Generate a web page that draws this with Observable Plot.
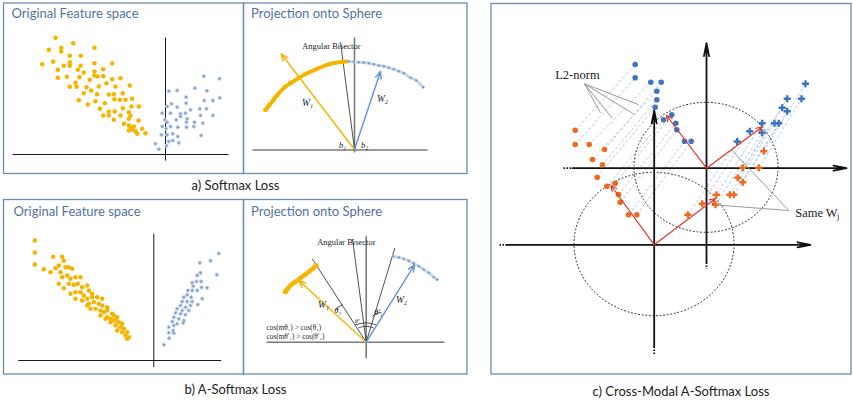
<!DOCTYPE html>
<html>
<head>
<meta charset="utf-8">
<script src="https://cdn.jsdelivr.net/npm/d3@7"></script>
<script src="https://cdn.jsdelivr.net/npm/@observablehq/plot@0.6"></script>
<style>
  html, body { margin: 0; padding: 0; background: #fff; }
  #chart { width: 853px; height: 402px; }
</style>
</head>
<body>
<div id="chart"></div>
<script>
// ---------- text ----------
const panelTitles = [
  {x: 11, y: 13.8, text: "Original Feature space"},
  {x: 250.5, y: 13.8, text: "Projection onto Sphere"},
  {x: 13, y: 211, text: "Original Feature space"},
  {x: 250.5, y: 211, text: "Projection onto Sphere"}
];
const captions = [
  {x: 235, y: 185, text: "a) Softmax Loss"},
  {x: 235, y: 389, text: "b) A-Softmax Loss"},
  {x: 680.5, y: 391.5, text: "c) Cross-Modal A-Softmax Loss"}
];
const frames = [
  {x1: 3.5, y1: 3, x2: 243.5, y2: 173.5},
  {x1: 243.5, y1: 3, x2: 467, y2: 173.5},
  {x1: 3.5, y1: 199.5, x2: 243.5, y2: 374},
  {x1: 243.5, y1: 199.5, x2: 467, y2: 374},
  {x1: 491, y1: 3.5, x2: 851, y2: 374}
];

// ---------- a) original feature space ----------
const aFeatOrange = [[55,37.3],[48.3,49.3],[60.7,47.3],[60.7,51],[72.7,42.7],[94,47.3],[41.7,63.7],[52.7,61.3],[63.3,65.3],[69.3,55.3],[69.3,61.7],[69.3,65.3],[80.3,55.3],[80,65.3],[57.3,69.3],[77.3,69.3],[83.3,72],[94,62.7],[94,71],[94,75],[102.7,68.7],[111.7,63],[57.3,77.3],[66.3,76.3],[75,82.3],[79,76.7],[89.3,79.3],[97,76],[102.7,75.7],[106,82.7],[111.7,78.7],[120,77.7],[129.3,85],[69.3,86.3],[76,86.3],[86,86.7],[90.7,90],[98.3,86],[115,86],[83.3,92.7],[96.7,93.7],[108.3,94],[113.3,93.7],[122.3,92.7],[114,98.7],[119.3,99.3],[125,99.3],[131.7,98.3],[78.3,99.7],[87.3,104],[95,100.7],[104.3,102.7],[99.3,108.3],[108.3,111],[114.3,111],[122.3,107.7],[131,106],[138.3,106],[102.7,115],[108.3,115],[120,115],[128.3,111.7],[130,115],[128.3,118.3],[113.3,119.3],[138,120],[123.3,123.3],[128.3,125],[133.3,126],[131.7,129.3],[128.3,130],[135,130.7],[141.7,128.3],[136.7,133.3],[145,132.7],[130,127.3]];
const aFeatBlue = [[203.3,75.7],[219,78.3],[168.3,90.7],[176.7,90],[194.3,87.7],[206.3,90.3],[185.7,96.7],[166.7,106],[171,103.3],[176.7,106.7],[185.7,102.7],[203.7,100],[212.3,100],[219.3,97.3],[161.7,112.7],[170,112.7],[180,113.3],[185,112.7],[190,109.3],[199.3,108.3],[206,108.3],[212.3,115],[200,115],[164.3,119.3],[166.7,121.7],[175.7,119.3],[180,116],[186.7,118.3],[194,121.7],[186,121.7],[202.3,122.7],[161.7,126],[170,126],[177.3,126.7],[186,126.7],[193.3,126],[165.7,128.3],[161,134.3],[166.7,134.3],[172.3,133.3],[177.3,136],[200.7,135],[168.3,141],[172.3,140],[178.3,142.3],[155,143.3],[158.3,148.7],[166,145.3]];

// ---------- b) original feature space ----------
const bFeatOrange = [[34.3,240],[34.3,252],[34.3,264],[43.3,268.7],[50,271.7],[52.7,256.3],[61.7,256.3],[63.3,260.3],[58.3,265],[55,267.7],[60,271.7],[65,266.7],[68.3,266.7],[71.7,268.3],[61.7,276.7],[66.7,275],[70,278.3],[75,276.7],[80,276.7],[58.3,283.3],[63.3,287.7],[68.3,283.3],[73.3,284.3],[77.3,283.3],[81.7,286.7],[86.7,285],[70,293.3],[75,291.7],[80,291.7],[83.3,295],[88.3,290],[91.7,293.3],[75,298.3],[81.7,300],[86.7,298.3],[91.7,296.7],[96.7,296.7],[101.7,298.3],[88.3,303.3],[93.3,301.7],[98.3,303.3],[101.7,305],[106.7,306.7],[95,308.3],[100,310],[103.3,311.7],[106.7,310],[111.7,313.3],[100,315],[106.7,316.7],[113.3,315],[116.7,316.7],[113.3,320],[118.3,321.7],[121.7,323.3],[110,321.7],[115,325],[120,326.7],[123.3,328.3],[116.7,330],[121.7,331.7],[126.7,331.7],[125,335],[128.3,336.7],[126.7,338.3],[86.7,305],[90,308.3],[105,318.3],[110,318.3],[115,320]];
const bFeatBlue = [[218.3,253],[210,260.3],[199.3,262.3],[216.3,274.3],[200,272.3],[196.7,275],[191.7,282.3],[196,281],[200.7,281],[192.7,285.7],[187.3,290],[191.7,290],[196.7,290],[201,287],[206.7,287.3],[186.7,294.3],[190.7,296.7],[183.3,296.7],[181.7,301],[186.7,301],[191.7,301],[201.7,298.3],[197.3,304],[180,305],[185,306.7],[190,305],[176.7,308.3],[181.7,310],[188.3,310],[175,312.3],[180,313.3],[185,314.3],[173.3,316.7],[178.3,318.3],[183.3,320],[171.7,321],[176.7,323.3],[182.7,322.3],[168.3,326.7],[173.3,325],[172.7,330],[168.3,332.3],[173.3,332.7],[168.7,337.7],[163.3,344.3]];

const featureAxes = [
  {x1: 12, y1: 154, x2: 228, y2: 154}, {x1: 165, y1: 37, x2: 165, y2: 160},
  {x1: 17.7, y1: 360, x2: 220.7, y2: 360}, {x1: 153.3, y1: 233.3, x2: 153.3, y2: 366.7}
];

// ---------- projections onto the sphere ----------
const sphereAxes = [
  {x1: 252, y1: 149.5, x2: 427, y2: 149.5}, {x1: 354, y1: 37, x2: 354, y2: 152},
  {x1: 266, y1: 341.7, x2: 444, y2: 341.7}, {x1: 365.7, y1: 235.7, x2: 365.7, y2: 357.7}
];
const bisectors = [
  {x1: 354, y1: 149, x2: 340, y2: 41.7},
  {x1: 365.7, y1: 341.7, x2: 311.7, y2: 258.3},
  {x1: 365.7, y1: 341.7, x2: 352, y2: 238.3},
  {x1: 365.7, y1: 341.7, x2: 394.3, y2: 247.7}
];
const weightW1 = [
  {x1: 354, y1: 149, x2: 280.7, y2: 53.3},
  {x1: 365.7, y1: 341.7, x2: 298.3, y2: 280}
];
const weightW2 = [
  {x1: 354, y1: 149, x2: 380, y2: 71},
  {x1: 365.7, y1: 341.7, x2: 414, y2: 264.3}
];
const aArcOrange = [[265,109.3],[270,103.3],[275,96.7],[279.3,91.7],[285,86],[291.7,81.7],[298.3,77.3],[306.7,72.7],[316.7,68.3],[326.7,64.3],[336.7,62],[346.7,61]];
const aArcOrangeDots = [[265,109.3],[268.3,105],[273.3,99.3],[276.7,95],[284.3,86.7],[290,82.3]];
const aArcBlue = [[348.3,61],[353.3,61.3],[358.3,61.7],[363.3,62],[368.3,62.7],[373.3,63.7],[378.3,65],[383.3,65.7],[388.3,67.3],[393.3,68.7],[398.3,70.7],[403.3,72.7],[410,77.3],[415.7,80],[422.7,86.7]];
const bArcOrange = [[285,291],[290,285],[296.7,280],[303.3,275],[310,270],[316,265]];
const bArcBlue = [[392.7,256],[398.3,257],[403.3,258.3],[408.3,260.3],[413.3,262.7],[418.3,265.7],[423.3,269],[428.3,272.3],[433.3,276.7],[436.7,279]];
const angleArcs = [
  [[355,324.3],[365.7,322.3],[375,324.3]],
  [[358.3,327.3],[365.7,325.7],[372.7,327.3]],
  [[334.5,310],[338,306.5],[342,304.5]],
  [[372.5,315.5],[376,313],[380.5,312]]
];
const serifStartLabels = [
  {x: 301.7, y: 45.5, text: "Angular Bisector", size: 8.5},
  {x: 316.7, y: 242, text: "Angular Bisector", size: 8.5},
  {x: 266, y: 327, text: "cos(mθ₁) > cos(θ₂)", size: 7.3},
  {x: 266, y: 336, text: "cos(mθ′₁) > cos(θ′₂)", size: 7.3}
];
const serifSymbolLabels = [
  {x: 307, y: 102.5, text: "W₁", size: 9.5},
  {x: 382, y: 98, text: "W₂", size: 9.5},
  {x: 342, y: 144.5, text: "b₁", size: 8.5},
  {x: 364, y: 145, text: "b₂", size: 8.5},
  {x: 323, y: 304, text: "W₁", size: 9.5},
  {x: 401, y: 299.5, text: "W₂", size: 9.5},
  {x: 337.5, y: 310.5, text: "θ₂", size: 7.5},
  {x: 378, y: 312.5, text: "θ′₁", size: 7.5},
  {x: 356.5, y: 320.5, text: "θ′", size: 6.5}
];

// ---------- c) cross-modal ----------
const cOrangeCircles = [[574.7,129.7],[574.7,144],[588.7,144],[604,149],[592,159],[602,164.3],[596.7,176.7],[606.3,185.7],[614.7,182.7],[618,194],[619.7,201.7],[628,214.3],[636.3,214.3]];
const cBlueCircles = [[634.7,64],[634.7,77.3],[650.3,81.7],[660.7,81.7],[656.3,90.7],[656.3,99.3],[654.7,106.7],[663,119.3],[671.3,114.3],[675.3,122.7],[676.3,129.3],[684,140.7],[690.7,140.7]];
const cOrangeCrosses = [[763.3,150.7],[742.3,167.3],[758.3,167.3],[737.3,177.3],[742.3,181.7],[716,194.3],[729.3,194.3],[733.3,194.3],[701.7,203.3],[715,204.3],[687.3,214.3]];
const cBlueCrosses = [[805,83.3],[786.7,98.3],[801,98.3],[781.7,107.3],[786.7,110.7],[761.7,122.7],[774,122.7],[778.3,122.7],[749.3,130.7],[761.7,132.3],[736.7,141]];
const cAxes = [
  {x1: 572, y1: 167.7, x2: 846, y2: 167.7}, {x1: 706, y1: 262, x2: 706, y2: 42.7},
  {x1: 506, y1: 244.3, x2: 810, y2: 244.3}, {x1: 653.7, y1: 346, x2: 653.7, y2: 110}
];
const cAxisStubs = [
  {x1: 563, y1: 167.7, x2: 572, y2: 167.7}, {x1: 706, y1: 262, x2: 706, y2: 268.5},
  {x1: 499, y1: 244.3, x2: 506, y2: 244.3}, {x1: 653.7, y1: 346, x2: 653.7, y2: 354}
];
const cCircles = [
  {cx: 706, cy: 167.3, rx: 72, ry: 65},
  {cx: 654, cy: 244, rx: 80, ry: 71.7}
];
const cWeights = [
  {x1: 706, y1: 167.7, x2: 666, y2: 115},
  {x1: 706, y1: 167.7, x2: 761.5, y2: 126.5},
  {x1: 653.7, y1: 244.3, x2: 610.5, y2: 185},
  {x1: 653.7, y1: 244.3, x2: 715, y2: 198}
];
const cLeaders = [
  {x1: 584, y1: 83.3, x2: 638.3, y2: 104.3},
  {x1: 584, y1: 83.3, x2: 632.7, y2: 113.3},
  {x1: 584, y1: 83.3, x2: 611.7, y2: 117.7},
  {x1: 584, y1: 83.3, x2: 600, y2: 112.3},
  {x1: 788.3, y1: 210, x2: 730.7, y2: 149},
  {x1: 788.3, y1: 210, x2: 713.3, y2: 204.3}
];
const cLabels = [
  {x: 554.7, y: 74, text: "L2-norm", size: 12.5},
  {x: 794.7, y: 212, text: "Same W", size: 12.5}
];
const cSubLabels = [{x: 836.5, y: 215.5, text: "j", size: 8.5}];

// ---------- colours ----------
const GOLD = "#f5b400", SOFTBLUE = "#7f9dca", HALO = "#c6d5eb";
const CORANGE = "#ee6a1c", CBLUE = "#3b76bf", RED = "#e0352b";
const BORDER = "#6b8cb5", TITLE = "#52739e";

const X = d => d[0], Y = d => d[1];
const pairs = (a, b) => a.map((p, i) => ({x1: p[0], y1: p[1], x2: b[i][0], y2: b[i][1]}));
const arcRows = angleArcs.flatMap((arc, k) => arc.map(p => ({x: p[0], y: p[1], k})));

function ellipseMark(data) {
  return (index, scales) => {
    const g = d3.create("svg:g");
    g.selectAll("ellipse").data(data).join("ellipse")
      .attr("cx", d => scales.x(d.cx))
      .attr("cy", d => scales.y(d.cy))
      .attr("rx", d => Math.abs(scales.x(d.cx + d.rx) - scales.x(d.cx)))
      .attr("ry", d => Math.abs(scales.y(d.cy + d.ry) - scales.y(d.cy)))
      .attr("fill", "none").attr("stroke", "#222")
      .attr("stroke-width", 1).attr("stroke-dasharray", "1.8,1.8");
    return g.node();
  };
}

const serif = "Liberation Serif, DejaVu Serif, serif";
const sans = "Lato, Open Sans, sans-serif";

const chart = Plot.plot({
  width: 853, height: 402, margin: 0,
  x: {domain: [0, 853], axis: null},
  y: {domain: [0, 402], reverse: true, axis: null},
  style: {background: "white", fontFamily: sans, overflow: "visible"},
  marks: [
    Plot.rect(frames, {x1: "x1", x2: "x2", y1: "y1", y2: "y2", fill: "none", stroke: BORDER, strokeWidth: 1.3}),
    Plot.text(panelTitles, {x: "x", y: "y", text: "text", textAnchor: "start", fill: TITLE, fontSize: 13, fontFamily: sans}),
    Plot.text(captions, {x: "x", y: "y", text: "text", fill: "#222", fontSize: 13, fontFamily: sans}),

    // a/b feature spaces
    Plot.link(featureAxes, {x1: "x1", y1: "y1", x2: "x2", y2: "y2", stroke: "#1a1a1a", strokeWidth: 1}),
    Plot.dot(aFeatOrange, {x: X, y: Y, r: 2.3, fill: GOLD}),
    Plot.dot(aFeatBlue, {x: X, y: Y, r: 1.7, fill: SOFTBLUE, stroke: HALO, strokeWidth: 1}),
    Plot.dot(bFeatOrange, {x: X, y: Y, r: 2.3, fill: GOLD}),
    Plot.dot(bFeatBlue, {x: X, y: Y, r: 1.7, fill: SOFTBLUE, stroke: HALO, strokeWidth: 1}),

    // projections
    Plot.link(sphereAxes, {x1: "x1", y1: "y1", x2: "x2", y2: "y2", stroke: "#7a7a7a", strokeWidth: 1.6}),
    Plot.link(bisectors, {x1: "x1", y1: "y1", x2: "x2", y2: "y2", stroke: "#222", strokeWidth: 0.8}),
    Plot.line(aArcOrange, {x: X, y: Y, stroke: GOLD, strokeWidth: 4, curve: "natural", strokeLinecap: "round"}),
    Plot.dot(aArcOrangeDots, {x: X, y: Y, r: 2.4, fill: GOLD}),
    Plot.line(aArcBlue, {x: X, y: Y, stroke: HALO, strokeWidth: 3, curve: "natural"}),
    Plot.dot(aArcBlue, {x: X, y: Y, r: 1.2, fill: SOFTBLUE}),
    Plot.line(bArcOrange, {x: X, y: Y, stroke: GOLD, strokeWidth: 4.5, curve: "natural", strokeLinecap: "round"}),
    Plot.dot([bArcOrange[0]], {x: X, y: Y, r: 2.8, fill: GOLD}),
    Plot.line(bArcBlue, {x: X, y: Y, stroke: HALO, strokeWidth: 3, curve: "natural"}),
    Plot.dot(bArcBlue, {x: X, y: Y, r: 1.2, fill: SOFTBLUE}),
    Plot.line(arcRows, {x: "x", y: "y", z: "k", stroke: "#222", strokeWidth: 0.8, curve: "natural"}),
    Plot.arrow(weightW1, {x1: "x1", y1: "y1", x2: "x2", y2: "y2", stroke: GOLD, strokeWidth: 1.4, headLength: 8, headAngle: 45}),
    Plot.arrow(weightW2, {x1: "x1", y1: "y1", x2: "x2", y2: "y2", stroke: "#5f95d6", strokeWidth: 1.4, headLength: 8, headAngle: 45}),
    Plot.text(serifStartLabels, {x: "x", y: "y", text: "text", fontSize: "size", textAnchor: "start", fontFamily: serif, fill: "#222"}),
    Plot.text(serifSymbolLabels, {x: "x", y: "y", text: "text", fontSize: "size", fontStyle: "italic", textAnchor: "middle", fontFamily: serif, fill: "#222"}),

    // c) cross modal
    Plot.link(pairs(cOrangeCircles, cBlueCircles), {x1: "x1", y1: "y1", x2: "x2", y2: "y2", stroke: "#b3c9e8", strokeWidth: 1, strokeDasharray: "3,2"}),
    Plot.link(pairs(cOrangeCrosses, cBlueCrosses), {x1: "x1", y1: "y1", x2: "x2", y2: "y2", stroke: "#b3c9e8", strokeWidth: 1, strokeDasharray: "3,2"}),
    ellipseMark(cCircles),
    Plot.link(cAxisStubs, {x1: "x1", y1: "y1", x2: "x2", y2: "y2", stroke: "#111", strokeWidth: 1.8, strokeDasharray: "1.5,1.5"}),
    Plot.arrow(cAxes, {x1: "x1", y1: "y1", x2: "x2", y2: "y2", stroke: "#111", strokeWidth: 1.8, headLength: 11, headAngle: 22}),
    Plot.link(cLeaders, {x1: "x1", y1: "y1", x2: "x2", y2: "y2", stroke: "#9a9a9a", strokeWidth: 1}),
    Plot.dot(cBlueCircles, {x: X, y: Y, r: 2.8, fill: CBLUE}),
    Plot.dot(cOrangeCircles, {x: X, y: Y, r: 2.8, fill: CORANGE}),
    Plot.dot(cBlueCrosses, {x: X, y: Y, r: 3, symbol: "cross", fill: CBLUE}),
    Plot.dot(cOrangeCrosses, {x: X, y: Y, r: 3, symbol: "cross", fill: CORANGE}),
    Plot.arrow(cWeights, {x1: "x1", y1: "y1", x2: "x2", y2: "y2", stroke: RED, strokeWidth: 1.2, headLength: 8, headAngle: 50}),
    Plot.text(cLabels, {x: "x", y: "y", text: "text", fontSize: "size", textAnchor: "start", fontFamily: serif, fill: "#222"}),
    Plot.text(cSubLabels, {x: "x", y: "y", text: "text", fontSize: "size", textAnchor: "start", fontFamily: serif, fill: "#222"})
  ]
});
document.getElementById("chart").appendChild(chart);
</script>
</body>
</html>
